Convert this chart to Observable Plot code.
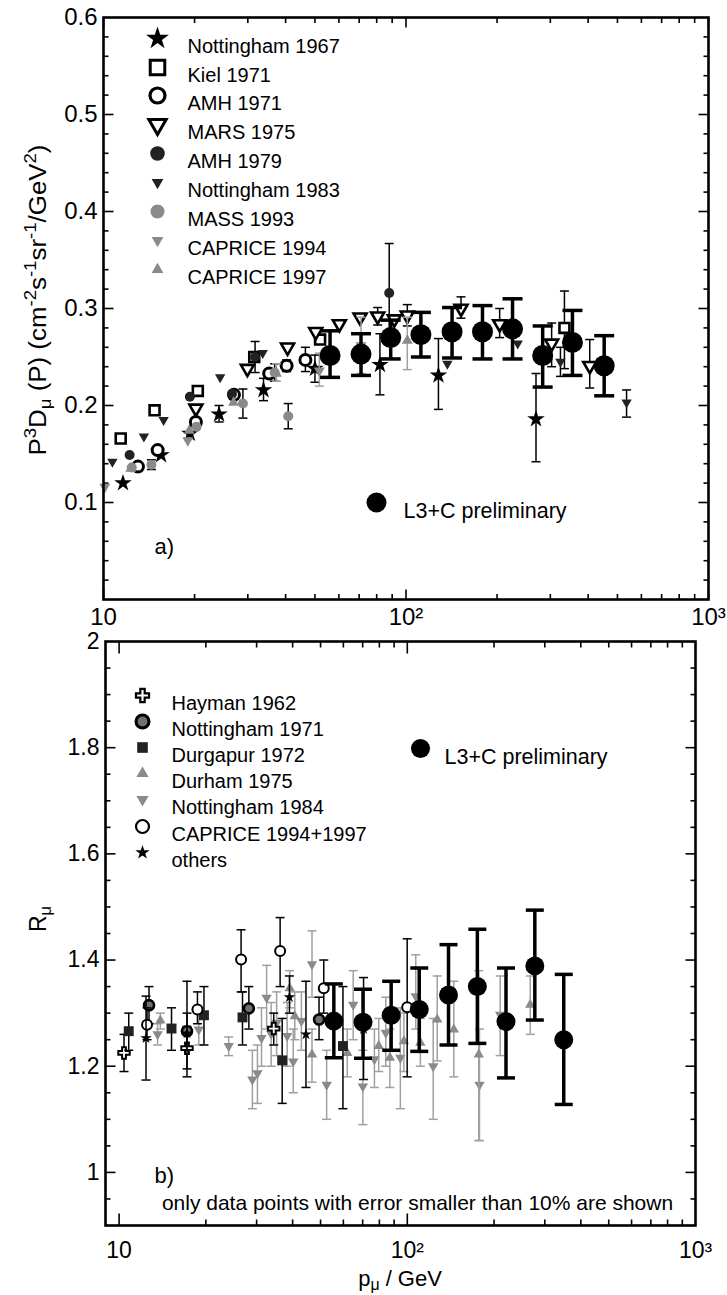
<!DOCTYPE html>
<html><head><meta charset="utf-8">
<script src="https://cdn.jsdelivr.net/npm/d3@7"></script>
<script src="https://cdn.jsdelivr.net/npm/@observablehq/plot@0.6"></script>
<style>
body{margin:0;background:#fff;}
#wrap{position:relative;width:727px;height:1295px;background:#fff;}
#wrap svg{position:absolute;left:0;}
</style></head><body><div id="wrap"></div>
<script>
// ---------- axis ticks / labels ----------
const xPow = [10, 100, 1000];
const xPowLabels = ["10", "10²", "10³"];
const topYTicks = [0.1, 0.2, 0.3, 0.4, 0.5, 0.6];
const botYTicks = [1, 1.2, 1.4, 1.6, 1.8, 2];
const botYLabels = ["1", "1.2", "1.4", "1.6", "1.8", "2"];
const xMinor = [20,30,40,50,60,70,80,90,200,300,400,500,600,700,800,900];

// ---------- panel a) : [p, value, errLow, errHigh] ----------
const nott1967 = [[11.6,0.120],[15.5,0.149],[19.3,0.171],[24.1,0.191,0.183,0.200],[33.8,0.216,0.205,0.228],[50,0.238,0.224,0.252],[82,0.242,0.211,0.274],[128,0.231,0.196,0.269],[269,0.186,0.142,0.233]];
const kiel1971 = [[11.4,0.166],[14.75,0.195],[20.5,0.215],[31.5,0.250],[52,0.268],[334,0.280,0.238,0.318]];
const amh1971 = [[13,0.137],[15.1,0.154],[20.2,0.183],[27,0.211],[35.3,0.233],[40.3,0.241,0.235,0.247],[46.5,0.247,0.235,0.260]];
const mars1975 = [[20.2,0.197],[29.9,0.238],[40.6,0.260],[50.3,0.276],[60.2,0.284],[70.5,0.291],[80.6,0.292,0.283,0.301],[91.5,0.289],[101,0.293,0.282,0.304],[152,0.300,0.290,0.312],[204,0.284,0.270,0.300],[303,0.264,0.240,0.285],[405,0.241,0.218,0.268]];
const amh1979 = [[12.2,0.149],[19.3,0.209],[26.6,0.212],[31.7,0.250,0.234,0.266],[88,0.316,0.265,0.367]];
const nott1983 = [[10.7,0.142],[13.6,0.168],[15.8,0.185],[24.3,0.229],[33.6,0.254],[137,0.243],[234,0.264],[324,0.245,0.230,0.260],[536,0.203,0.188,0.216]];
const mass1993 = [[12.4,0.136],[14.4,0.139,0.134,0.144],[20.3,0.178],[28.9,0.202,0.187,0.217],[36.8,0.234,0.225,0.243],[40.8,0.189,0.176,0.202]];
const caprice1994 = [[10.1,0.116],[19,0.164],[51.7,0.236,0.220,0.254],[71,0.262,0.233,0.291]];
const caprice1997 = [[12.3,0.135],[19.2,0.174],[26.9,0.203],[37.3,0.233,0.225,0.243],[101,0.267,0.237,0.291]];
const l3cFlux = [[56.1,0.2515,0.229,0.277],[71,0.253,0.231,0.274],[89,0.270,0.248,0.288],[112,0.273,0.250,0.296],[142,0.276,0.249,0.301],[179,0.276,0.248,0.303],[225,0.279,0.248,0.310],[283,0.2515,0.219,0.282],[355,0.265,0.231,0.298],[452,0.241,0.210,0.272]];

// ---------- panel b) : [p, ratio, errLow, errHigh] ----------
const hayman1962 = [[10.4,1.225,1.19,1.26],[17.2,1.234,1.195,1.275],[34.4,1.271,1.24,1.30]];
const nott1971 = [[12.7,1.315,1.28,1.35],[17.2,1.266,1.23,1.30],[28.2,1.309,1.27,1.35],[49.4,1.288,1.25,1.33]];
const durgapur1972 = [[10.8,1.266,1.23,1.30],[15.2,1.271,1.23,1.31],[19.7,1.296,1.24,1.35],[26.8,1.292,1.24,1.34],[36.8,1.211,1.13,1.29],[59.8,1.238,1.12,1.35]];
const durham1975 = [[13.9,1.286,1.27,1.30],[39.1,1.347,1.31,1.38],[40.7,1.294,1.25,1.34],[46.7,1.222,1.17,1.27],[61.9,1.225,1.18,1.27],[79.6,1.238,1.19,1.29],[87,1.216,1.16,1.27],[97.3,1.247,1.19,1.30],[111,1.244,1.20,1.29],[127,1.288,1.21,1.37],[145,1.269,1.18,1.36],[177,1.222,1.06,1.38],[267,1.316,1.26,1.37]];
const nott1984 = [[13.6,1.26,1.24,1.28],[18.9,1.269,1.24,1.30],[24,1.238,1.22,1.255],[29,1.175,1.12,1.23],[30.2,1.187,1.13,1.24],[31.2,1.253,1.20,1.31],[32.5,1.329,1.27,1.39],[33.7,1.261,1.20,1.32],[35.2,1.282,1.22,1.34],[38.3,1.257,1.20,1.32],[40.2,1.209,1.15,1.27],[42.9,1.285,1.23,1.34],[46.7,1.392,1.33,1.455],[52.5,1.165,1.10,1.23],[64.9,1.316,1.25,1.38],[70.1,1.162,1.09,1.23],[76.9,1.213,1.16,1.27],[84.2,1.263,1.20,1.33],[94.6,1.216,1.12,1.31],[107,1.332,1.27,1.41],[123,1.20,1.10,1.29],[178,1.165,1.06,1.27],[210,1.297,1.22,1.37]];
const caprice9497 = [[12.5,1.278,1.25,1.31],[18.7,1.307,1.28,1.34],[26.5,1.401,1.34,1.457],[36.2,1.417,1.35,1.48],[51.3,1.347,1.30,1.40],[99.9,1.311,1.18,1.44]];
const others = [[12.4,1.253,1.174,1.332],[17.2,1.262,1.18,1.36],[39,1.33,1.30,1.37],[44.5,1.26,1.16,1.36],[70.5,1.27,1.175,1.367]];
const l3cRatio = [[55.6,1.285,1.216,1.355],[70.2,1.283,1.215,1.345],[87.9,1.296,1.23,1.36],[110,1.307,1.228,1.385],[139,1.334,1.24,1.429],[175,1.35,1.243,1.458],[220,1.284,1.178,1.385],[277,1.389,1.287,1.494],[349,1.25,1.128,1.373]];

// ---------- labels ----------
const legendTop = ["Nottingham 1967","Kiel 1971","AMH 1971","MARS 1975","AMH 1979","Nottingham 1983","MASS 1993","CAPRICE 1994","CAPRICE 1997"];
const legendBot = ["Hayman 1962","Nottingham 1971","Durgapur 1972","Durham 1975","Nottingham 1984","CAPRICE 1994+1997","others"];
const l3cLabel = "L3+C preliminary";
const noteText = "only data points with error smaller than 10% are shown";

const FONT = '"Liberation Sans", Arial, Helvetica, sans-serif';
const GRAY = "#8a8a8a", GRAYBAR = "#a0a0a0", DARK = "#222";

// ---------- symbols ----------
const triDown = {draw(c, s){const R=Math.sqrt(s/Math.PI); c.moveTo(0,R); c.lineTo(0.866*R,-R/2); c.lineTo(-0.866*R,-R/2); c.closePath();}};
const triUp = {draw(c, s){const R=Math.sqrt(s/Math.PI); c.moveTo(0,-R); c.lineTo(0.866*R,R/2); c.lineTo(-0.866*R,R/2); c.closePath();}};
const capSym = {draw(c, s){const w=Math.sqrt(s/Math.PI); c.moveTo(-w,0); c.lineTo(w,0);}};
const tickSym = (dx, dy) => ({draw(c){c.moveTo(0,0); c.lineTo(dx,dy);}});

function series(data, o) {
  const e = data.filter(d => d.length > 2);
  const ec = o.errColor || "black", ew = o.errWidth || 1.5, cr = o.capR || 4.5;
  return [
    Plot.ruleX(e, {x: d=>d[0], y1: d=>d[2], y2: d=>d[3], stroke: ec, strokeWidth: ew}),
    Plot.dot(e, {x: d=>d[0], y: d=>d[2], symbol: capSym, r: cr, fill: "none", stroke: ec, strokeWidth: ew}),
    Plot.dot(e, {x: d=>d[0], y: d=>d[3], symbol: capSym, r: cr, fill: "none", stroke: ec, strokeWidth: ew}),
    Plot.dot(data, {x: d=>d[0], y: d=>d[1], symbol: o.symbol, r: o.r, fill: o.fill, stroke: o.stroke || "none", strokeWidth: o.sw || 0})
  ];
}
function frameTicks(xd, yd, xMaj, xMin, yMaj, yMin, L) {
  const m = (vals, acc, sym) => Plot.dot(vals, {...acc, symbol: sym, fill: "none", stroke: "black", strokeWidth: 1.6});
  const [x0, x1] = xd, [y0, y1] = yd;
  return [
    m(xMaj, {x: d=>d, y: ()=>y0}, tickSym(0, -L.xMaj)), m(xMin, {x: d=>d, y: ()=>y0}, tickSym(0, -L.xMin)),
    m(xMaj, {x: d=>d, y: ()=>y1}, tickSym(0, L.xMaj)), m(xMin, {x: d=>d, y: ()=>y1}, tickSym(0, L.xMin)),
    m(yMaj, {y: d=>d, x: ()=>x0}, tickSym(L.yMaj, 0)), m(yMin, {y: d=>d, x: ()=>x0}, tickSym(L.yMin, 0)),
    m(yMaj, {y: d=>d, x: ()=>x1}, tickSym(-L.yMaj, 0)), m(yMin, {y: d=>d, x: ()=>x1}, tickSym(-L.yMin, 0))
  ];
}
function legendRow(label, dx, dy, tdx, o, fs) {
  return [
    Plot.dot([label], {frameAnchor: "top-left", dx, dy, symbol: o.symbol, r: o.r, fill: o.fill, stroke: o.stroke || "none", strokeWidth: o.sw || 0}),
    Plot.text([label], {frameAnchor: "top-left", dx: tdx, dy, text: d=>d, textAnchor: "start", fontSize: fs || 20, fill: "black"})
  ];
}
function richText(svg, x, y, parts, rot, size, len) {
  const t = d3.select(svg).append("text").attr("transform", `translate(${x},${y}) rotate(${rot})`)
    .attr("text-anchor", "middle").attr("font-family", FONT).attr("font-size", size).attr("fill", "black");
  if (len) t.attr("textLength", len).attr("lengthAdjust", "spacingAndGlyphs");
  let shift = 0;
  for (const [s, k] of parts) {
    const target = k === "sup" ? -0.45*size : k === "sub" ? 0.2*size : 0;
    const ts = t.append("tspan").text(s).attr("dy", target - shift);
    if (k) ts.attr("font-size", size*0.72);
    shift = target;
  }
}

// ---------- styles per series ----------
const S = {
  nott1967: {symbol: "star", r: 5.5, fill: "black"},
  kiel1971: {symbol: "square", r: 5.6, fill: "white", stroke: "black", sw: 2.6},
  amh1971: {symbol: "circle", r: 5.5, fill: "white", stroke: "black", sw: 3},
  mars1975: {symbol: triDown, r: 7.5, fill: "white", stroke: "black", sw: 2.6},
  amh1979: {symbol: "circle", r: 5, fill: DARK},
  nott1983: {symbol: triDown, r: 6, fill: DARK},
  mass1993: {symbol: "circle", r: 5, fill: GRAY},
  caprice1994: {symbol: triDown, r: 6.3, fill: GRAY, errColor: GRAYBAR},
  caprice1997: {symbol: triUp, r: 6.3, fill: GRAY, errColor: GRAYBAR},
  l3c: {symbol: "circle", r: 10.5, fill: "black", errWidth: 3.5, capR: 10}
};
const SL = [
  {symbol: "star", r: 7.2, fill: "black"},
  {symbol: "square", r: 8.2, fill: "white", stroke: "black", sw: 3},
  {symbol: "circle", r: 7.5, fill: "white", stroke: "black", sw: 3.2},
  {symbol: triDown, r: 10, fill: "white", stroke: "black", sw: 3},
  {symbol: "circle", r: 7.3, fill: DARK},
  {symbol: triDown, r: 6.8, fill: DARK},
  {symbol: "circle", r: 7, fill: GRAY},
  {symbol: triDown, r: 6.8, fill: GRAY},
  {symbol: triUp, r: 6.8, fill: GRAY}
];
const SB = {
  hayman: {symbol: "cross", r: 4.8, fill: "white", stroke: "black", sw: 2},
  nott1971: {symbol: "circle", r: 5, fill: "#707070", stroke: "black", sw: 2.6},
  durgapur: {symbol: "square", r: 5.6, fill: DARK},
  durham: {symbol: triUp, r: 6, fill: GRAY, errColor: GRAYBAR},
  nott1984: {symbol: triDown, r: 6, fill: GRAY, errColor: GRAYBAR},
  caprice: {symbol: "circle", r: 5, fill: "white", stroke: "black", sw: 2},
  others: {symbol: "star", r: 3.6, fill: "black"},
  l3c: {symbol: "circle", r: 9.5, fill: "black", errWidth: 3.5, capR: 9}
};
const SBL = [
  {symbol: "cross", r: 5.5, fill: "white", stroke: "black", sw: 2.2},
  {symbol: "circle", r: 6.5, fill: "#707070", stroke: "black", sw: 3},
  {symbol: "square", r: 6, fill: DARK},
  {symbol: triUp, r: 7, fill: GRAY},
  {symbol: triDown, r: 7, fill: GRAY},
  {symbol: "circle", r: 6.5, fill: "white", stroke: "black", sw: 2.2},
  {symbol: "star", r: 4.5, fill: "black"}
];

// ---------- top panel ----------
const topXD = [10, 1000], topYD = [0, 0.6];
const topPlot = Plot.plot({
  width: 727, height: 630, marginLeft: 103, marginRight: 19, marginTop: 17, marginBottom: 31,
  style: {fontFamily: FONT, fontSize: "24px", background: "white", color: "black", overflow: "visible"},
  x: {type: "log", domain: topXD, ticks: xPow, tickFormat: d => xPowLabels[xPow.indexOf(d)], tickSize: 0, tickPadding: 8, label: null},
  y: {domain: topYD, ticks: topYTicks, tickFormat: d => d.toFixed(1), tickSize: 0, tickPadding: 6, label: null},
  marks: [
    ...frameTicks(topXD, topYD, xPow, xMinor, topYTicks.slice(0,5), d3.range(1,30).map(i=>i*0.02).filter(v=>Math.abs(v*10-Math.round(v*10))>1e-6), {xMaj: 10, xMin: 5.5, yMaj: 10, yMin: 5}),
    ...series(nott1967, S.nott1967),
    ...series(kiel1971, S.kiel1971),
    ...series(amh1971, S.amh1971),
    ...series(mars1975, S.mars1975),
    ...series(amh1979, S.amh1979),
    ...series(nott1983, S.nott1983),
    ...series(mass1993, S.mass1993),
    ...series(caprice1994, S.caprice1994),
    ...series(caprice1997, S.caprice1997),
    ...series(l3cFlux, S.l3c),
    ...legendTop.flatMap((lab, i) => legendRow(lab, 54, [21,50,78,107,136,165,194,223,252][i], 84, SL[i], 20)),
    ...legendRow(l3cLabel, 273, 485, 300, {symbol: "circle", r: 10, fill: "black"}, 21.5),
    Plot.text(["a)"], {frameAnchor: "top-left", dx: 51, dy: 521, text: d=>d, textAnchor: "start", fontSize: 22}),
    Plot.frame({stroke: "black", strokeWidth: 2.6})
  ]
});

// ---------- bottom panel ----------
const botXD = [8.97, 1000], botYD = [0.9, 2.0];
const botPlot = Plot.plot({
  width: 727, height: 665, marginLeft: 105, marginRight: 32, marginTop: 11, marginBottom: 70,
  style: {fontFamily: FONT, fontSize: "23px", background: "white", color: "black", overflow: "visible"},
  x: {type: "log", domain: botXD, ticks: xPow, tickFormat: d => xPowLabels[xPow.indexOf(d)], tickSize: 0, tickPadding: 16, label: null},
  y: {domain: botYD, ticks: botYTicks, tickFormat: d => botYLabels[botYTicks.indexOf(d)], tickSize: 0, tickPadding: 6, label: null},
  marks: [
    ...frameTicks(botXD, botYD, [10,100], xMinor, botYTicks.slice(0,5), d3.range(19,40).map(i=>i*0.05).filter(v=>Math.abs(v*5-Math.round(v*5))>1e-6), {xMaj: 12, xMin: 6, yMaj: 10, yMin: 5}),
    ...series(nott1984, SB.nott1984),
    ...series(durham1975, SB.durham),
    ...series(hayman1962, SB.hayman),
    ...series(nott1971, SB.nott1971),
    ...series(durgapur1972, SB.durgapur),
    ...series(caprice9497, SB.caprice),
    ...series(others, SB.others),
    ...series(l3cRatio, SB.l3c),
    ...legendBot.flatMap((lab, i) => legendRow(lab, 37, [54,80,106,132,158,185,211][i], 66, SBL[i], 20)),
    ...legendRow(l3cLabel, 315, 107, 339, {symbol: "circle", r: 9.5, fill: "black"}, 21.5),
    Plot.text(["b)"], {frameAnchor: "top-left", dx: 49, dy: 526, text: d=>d, textAnchor: "start", fontSize: 22}),
    Plot.text([noteText], {frameAnchor: "top-left", dx: 312, dy: 554, text: d=>d, textAnchor: "middle", fontSize: 21}),
    Plot.frame({stroke: "black", strokeWidth: 2.6})
  ]
});

const wrap = document.getElementById("wrap");
topPlot.style.top = "0px";
botPlot.style.top = "630px";
wrap.appendChild(topPlot);
wrap.appendChild(botPlot);

richText(topPlot, 46, 300, [["P"],["3","sup"],["D"],["μ","sub"],[" (P) (cm"],["-2","sup"],["s"],["-1","sup"],["sr"],["-1","sup"],["/GeV"],["2","sup"],[")"]], -90, 23, 311);
richText(botPlot, 46, 289, [["R"],["μ","sub"]], -90, 23);
richText(botPlot, 400, 656, [["p"],["μ","sub"],[" / GeV"]], 0, 22);
</script></body></html>
